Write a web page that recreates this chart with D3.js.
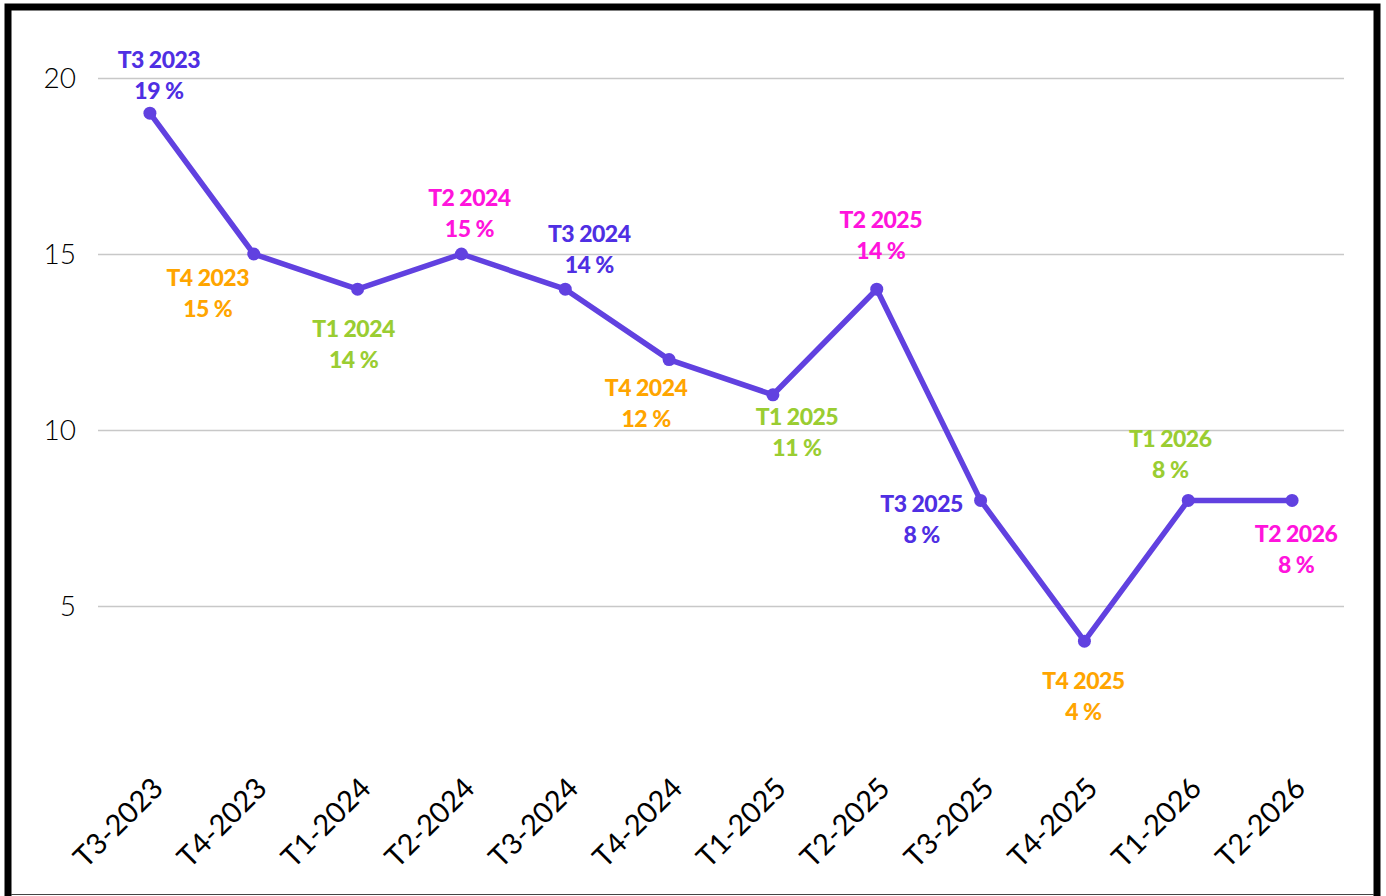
<!DOCTYPE html>
<html><head><meta charset="utf-8">
<script src="https://cdn.jsdelivr.net/npm/d3@7"></script>
<style>
html,body{margin:0;padding:0;background:#fff;}
svg{display:block;}
</style></head>
<body><svg id="chart" width="1386" height="896"></svg>
<script>
const categories = ["T3-2023","T4-2023","T1-2024","T2-2024","T3-2024","T4-2024","T1-2025","T2-2025","T3-2025","T4-2025","T1-2026","T2-2026"];
const values = [19,15,14,15,14,12,11,14,8,4,8,8];
const pointLabels = ["T3 2023","T4 2023","T1 2024","T2 2024","T3 2024","T4 2024","T1 2025","T2 2025","T3 2025","T4 2025","T1 2026","T2 2026"];
const yTicks = [5,10,15,20];

const quarterColor = {T1:"#9acd32", T2:"#ff14dc", T3:"#4f2fe3", T4:"#ffa500"};
// label offsets (dx, dy of first line center) relative to point
const labelOffsets = [[9,-53],[-46,24],[-4,40],[8,-56],[24,-55],[-23,28],[24,22],[4,-69],[-59,3],[-1,40],[-18,-62],[4,33]];

const svg = d3.select("#chart");
const margin = {left:98, right:1344, top:78, bottom:782};
const x = d3.scaleBand().domain(categories).range([margin.left, margin.right]).padding(0);
const y = d3.scaleLinear().domain([0,20]).range([margin.bottom, margin.top]);
const cx = d => x(d) + x.bandwidth()/2;

// frame
svg.append("rect").attr("x",8).attr("y",7).attr("width",1369).attr("height",900)
  .attr("fill","none").attr("stroke","#000").attr("stroke-width",7);
svg.append("line").attr("x1",11).attr("x2",1374).attr("y1",894.5).attr("y2",894.5).attr("stroke","#444").attr("stroke-width",1);

// gridlines
svg.append("g").selectAll("line").data(yTicks).join("line")
  .attr("x1",margin.left).attr("x2",margin.right)
  .attr("y1",d=>Math.round(y(d))+0.5).attr("y2",d=>Math.round(y(d))+0.5)
  .attr("stroke","#c8c8c8").attr("stroke-width",1.3);

// y tick labels
svg.append("g").selectAll("text").data(yTicks).join("text")
  .attr("x",76).attr("y",d=>y(d)).attr("dy","0.36em").attr("text-anchor","end")
  .attr("font-family","Lato, sans-serif").attr("font-weight",300).attr("font-size",28).attr("fill","#000")
  .text(d=>d);

// x labels
svg.append("g").selectAll("text").data(categories).join("text")
  .attr("transform",d=>`translate(${cx(d)+15},${790}) rotate(-45)`)
  .attr("text-anchor","end")
  .attr("font-family","Lato, sans-serif").attr("font-size",29).attr("fill","#000")
  .text(d=>d);

// line
const data = categories.map((c,i)=>({c, v:values[i], label:pointLabels[i], i}));
svg.append("path").datum(data)
  .attr("d", d3.line().x(d=>cx(d.c)).y(d=>y(d.v)))
  .attr("fill","none").attr("stroke","#6141e0").attr("stroke-width",5.5).attr("stroke-linejoin","round");
svg.append("g").selectAll("circle").data(data).join("circle")
  .attr("cx",d=>cx(d.c)).attr("cy",d=>y(d.v)).attr("r",6.5).attr("fill","#6141e0");

// point labels
const lg = svg.append("g").selectAll("g").data(data).join("g")
  .attr("transform",d=>`translate(${cx(d.c)+labelOffsets[d.i][0]},${y(d.v)+labelOffsets[d.i][1]})`)
  .attr("fill",d=>quarterColor[d.label.slice(0,2)])
  .attr("font-family","Lato, sans-serif").attr("font-weight",900).attr("font-size",23)
  .attr("text-anchor","middle").attr("letter-spacing","-0.5");
lg.append("text").attr("dy","0.36em").text(d=>d.label);
lg.append("text").attr("y",31).attr("dy","0.36em").text(d=>d.v+" %");
</script></body></html>
